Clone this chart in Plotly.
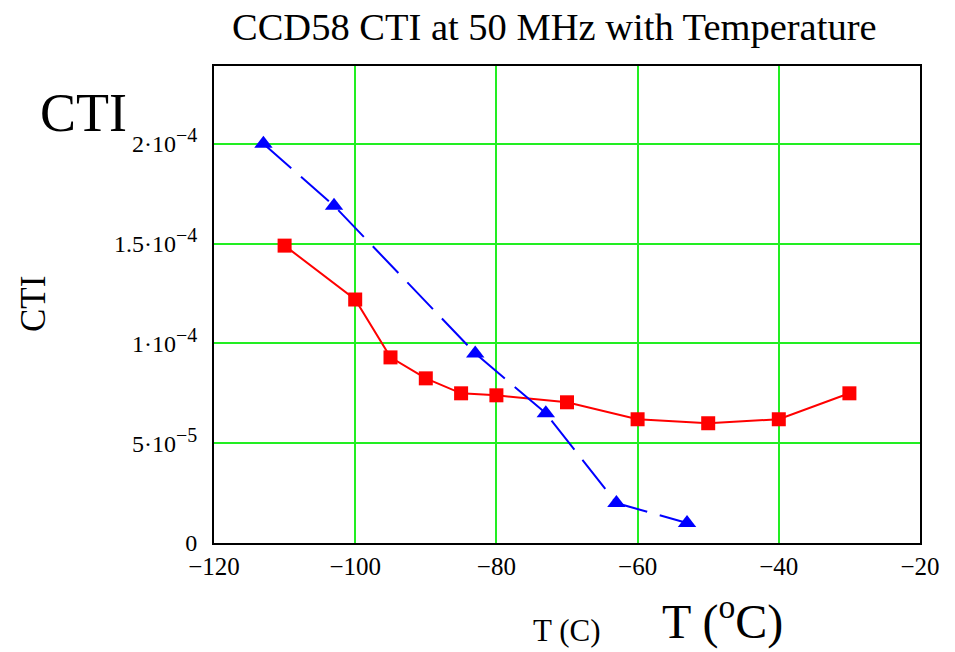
import plotly.graph_objects as go

# Measured CTI of CCD58 at 50 MHz versus temperature
temp_red = [-110, -100, -95, -90, -85, -80, -70, -60, -50, -40, -30]
cti_red = [1.49e-4, 1.22e-4, 0.93e-4, 0.825e-4, 0.75e-4, 0.74e-4, 0.705e-4, 0.62e-4, 0.60e-4, 0.62e-4, 0.75e-4]

temp_blue = [-113, -103, -83, -73, -63, -53]
cti_blue = [2.0e-4, 1.69e-4, 0.95e-4, 0.65e-4, 0.20e-4, 0.10e-4]

x_ticks = [-120, -100, -80, -60, -40, -20]
x_tick_text = ["\u2212120", "\u2212100", "\u221280", "\u221260", "\u221240", "\u221220"]
y_ticks = [0, 5e-5, 1e-4, 1.5e-4, 2e-4]


def sci(mant, exp):
    return (f"{mant}\u00b710<sup><span style='font-size:20px'>\u2212{exp}</span></sup>")


y_tick_text = ["0", sci("5", 5), sci("1", 4), sci("1.5", 4), sci("2", 4)]

SERIF = "Liberation Serif, Times New Roman, serif"
W, H = 955, 652
L, R, T, B = 214, 35, 66, 109
PW, PH = W - L - R, H - T - B


def px(x):
    return (x - L) / PW


def py(y):
    return 1 - (y - T) / PH


fig = go.Figure()
fig.add_trace(go.Scatter(
    x=temp_red, y=cti_red, mode="lines+markers",
    line=dict(color="#ff0000", width=2),
    marker=dict(symbol="square", size=14, color="#ff0000"),
    showlegend=False,
))
fig.add_trace(go.Scatter(
    x=temp_blue, y=cti_blue, mode="lines+markers",
    line=dict(color="#0000ff", width=2, dash="37px,13px"),
    marker=dict(symbol="triangle-up", size=16, color="#0000ff"),
    showlegend=False,
))

axis_common = dict(
    showgrid=True, gridcolor="#22ee22", gridwidth=2,
    showline=True, linecolor="black", linewidth=2, mirror=True,
    ticks="", zeroline=False,
)
fig.update_xaxes(
    range=[-120, -20], tickvals=x_ticks, ticktext=x_tick_text,
    tickfont=dict(family=SERIF, size=25, color="black"), **axis_common,
)
fig.update_yaxes(
    range=[0, 2.39e-4], tickvals=y_ticks, ticktext=y_tick_text,
    tickfont=dict(family=SERIF, size=24, color="black"), ticklabelstandoff=10,
    **axis_common,
)

annotations = [
    dict(text="CCD58 CTI at 50 MHz with Temperature", x=px(554), y=py(27), size=38.5),
    dict(text="CTI", x=px(83), y=py(113), size=54),
    dict(text="CTI", x=px(33), y=py(304), size=35, angle=-90),
    dict(text="T (C)", x=px(566), y=py(630), size=31),
    dict(text="T (<sup>o</sup>C)", x=px(722), y=py(618), size=48),
]
fig.update_layout(
    width=W, height=H,
    margin=dict(l=L, r=R, t=T, b=B),
    paper_bgcolor="white", plot_bgcolor="white",
    annotations=[
        dict(text=a["text"], x=a["x"], y=a["y"], xref="paper", yref="paper",
             xanchor="center", yanchor="middle", showarrow=False,
             textangle=a.get("angle", 0),
             font=dict(family=SERIF, size=a["size"], color="black"))
        for a in annotations
    ],
)

fig.write_html("out.html")
